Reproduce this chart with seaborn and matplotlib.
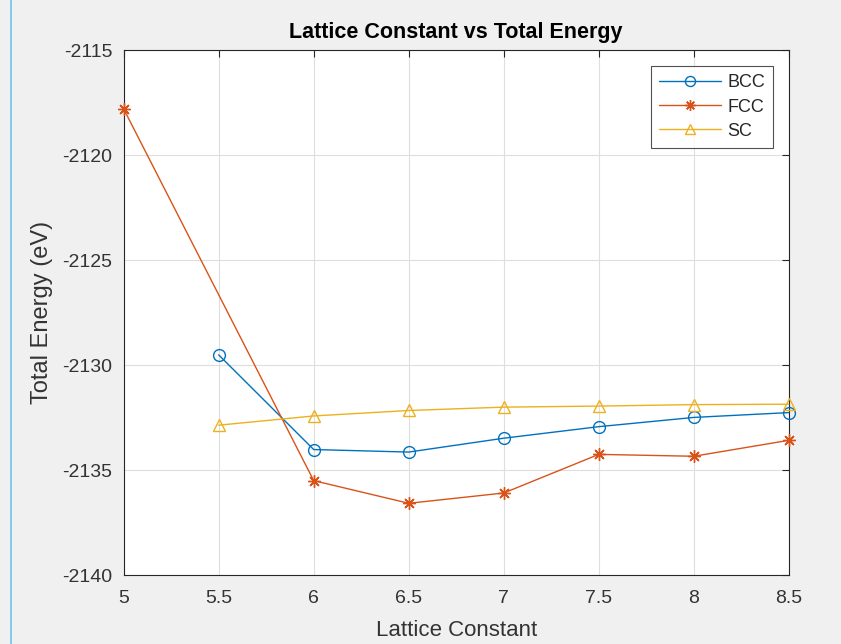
import numpy as np
import pandas as pd
import matplotlib.pyplot as plt
import matplotlib.lines as mlines
import seaborn as sns

# Data
lattice = [5.0, 5.5, 6.0, 6.5, 7.0, 7.5, 8.0, 8.5]
bcc_lat = [5.5, 6.0, 6.5, 7.0, 7.5, 8.0, 8.5]
bcc_energy = [-2129.51, -2134.02, -2134.14, -2133.48, -2132.93, -2132.49, -2132.26]
fcc_lat = [5.0, 6.0, 6.5, 7.0, 7.5, 8.0, 8.5]
fcc_energy = [-2117.79, -2135.50, -2136.58, -2136.09, -2134.25, -2134.34, -2133.58]
sc_lat = [5.5, 6.0, 6.5, 7.0, 7.5, 8.0, 8.5]
sc_energy = [-2132.86, -2132.42, -2132.16, -2132.00, -2131.95, -2131.88, -2131.86]

sns.set_style("white")
plt.rcParams['font.family'] = ['Liberation Sans', 'DejaVu Sans']
plt.rcParams['axes.unicode_minus'] = False

fig = plt.figure(figsize=(8.41, 6.44), dpi=100, facecolor='#f0f0f0')
ax = fig.add_axes([0.147, 0.107, 0.791, 0.815])
ax.set_facecolor('white')

star = (8, 2, 0)
series = [
    ('BCC', bcc_lat, bcc_energy, '#0072BD', 'o', 8.5),
    ('FCC', fcc_lat, fcc_energy, '#D95319', star, 9),
    ('SC', sc_lat, sc_energy, '#EDB120', '^', 9),
]
for name, xs, ys, col, mk, ms in series:
    df = pd.DataFrame({'x': xs, 'y': ys})
    sns.lineplot(data=df, x='x', y='y', ax=ax, color=col, linewidth=1.0,
                 marker=mk, markersize=ms, markerfacecolor='none',
                 markeredgecolor=col, markeredgewidth=1.0, label=name,
                 clip_on=False, zorder=3)

ax.set_xlim(5, 8.5)
ax.set_ylim(-2140, -2115)
ax.set_xticks(lattice)
ax.set_xticklabels(['5', '5.5', '6', '6.5', '7', '7.5', '8', '8.5'])
ax.set_yticks([-2140, -2135, -2130, -2125, -2120, -2115])
ax.grid(True, color='#dedede', linewidth=0.8)
ax.tick_params(direction='in', length=5, width=0.8, colors='#262626',
               labelsize=14, top=True, right=True, labelcolor='#333333')
ax.tick_params(axis='x', pad=11)
ax.tick_params(axis='y', pad=8)
for sp in ax.spines.values():
    sp.set_color('#262626')
    sp.set_linewidth(0.8)

ax.set_xlabel('Lattice Constant', fontsize=16, color='#333333', labelpad=9)
ax.set_ylabel('Total Energy (eV)', fontsize=17, color='#333333', labelpad=7)
ax.set_title('Lattice Constant vs Total Energy', fontsize=15.5, fontweight='bold',
             color='black', pad=9)

leg = ax.legend(loc='upper right', bbox_to_anchor=(0.976, 0.9695),
                borderaxespad=0, fontsize=13, frameon=True, fancybox=False,
                edgecolor='#262626', handlelength=3.4, borderpad=0.45,
                labelspacing=0.4, handletextpad=0.35, markerscale=0.85)
leg.get_frame().set_linewidth(0.8)

# thin blue border line at the left of the screenshot
fig.add_artist(mlines.Line2D([0.0135, 0.0135], [0, 1], color='#6cc7ee',
                             linewidth=1.2, transform=fig.transFigure))

fig.savefig('out.png', dpi=100, facecolor=fig.get_facecolor())
